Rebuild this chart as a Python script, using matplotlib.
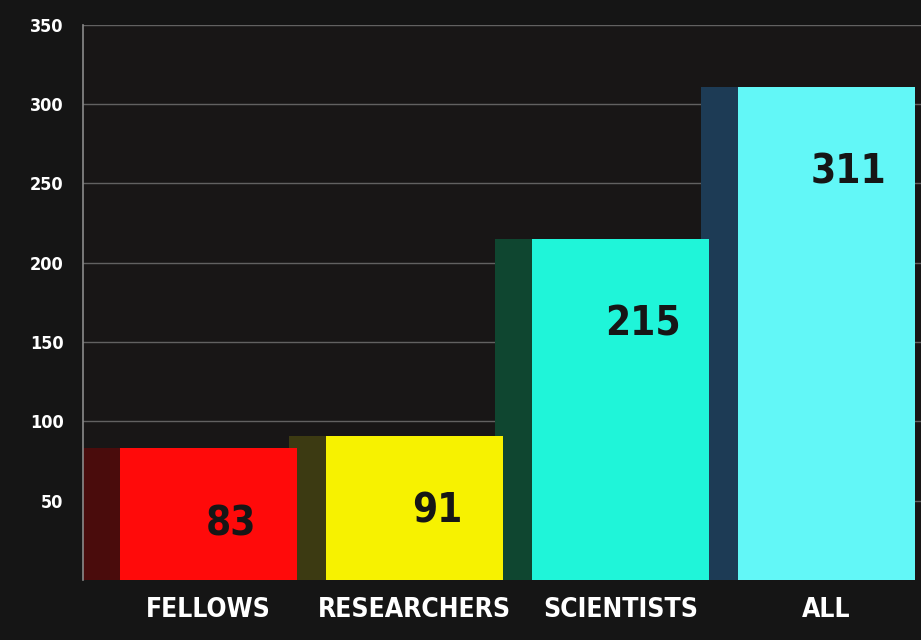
import matplotlib.pyplot as plt

categories = ["FELLOWS", "RESEARCHERS", "SCIENTISTS", "ALL"]
values = [83, 91, 215, 311]
yticks = [50, 100, 150, 200, 250, 300, 350]

bar_colors = ["#ff0a0a", "#f7f200", "#1ff5d9", "#62f7f7"]
side_colors = ["#4a0c0c", "#3c3a12", "#0f4630", "#1d3b55"]

fig = plt.figure(figsize=(9.21, 6.40), dpi=100)
fig.patch.set_facecolor("#151515")
ax = fig.add_axes([0.090, 0.094, 0.910, 0.867])
ax.set_facecolor("#181616")

x = list(range(len(categories)))
ax.set_xlim(-0.61, 3.46)
ax.set_ylim(0, 350)

# darker side faces to fake the 3D look
ax.bar([i - 0.18 for i in x], values, width=0.86, color=side_colors, zorder=2)
ax.bar(x, values, width=0.86, color=bar_colors, zorder=3)

for i, v in enumerate(values):
    top_off = 48 if v < 150 else 54
    ax.text(i + 0.11, v - top_off, str(v), ha="center", va="center",
            fontsize=29, color="#161616", zorder=4, fontweight="semibold",
            fontstretch="condensed")

ax.set_yticks(yticks)
ax.set_yticklabels([str(t) for t in yticks], color="white", fontsize=13,
                   fontweight="bold", fontstretch="condensed")
ax.set_xticks(x)
ax.set_xticklabels(categories, color="white", fontsize=19, fontweight="bold",
                   fontstretch="condensed")
ax.tick_params(axis="both", length=0)
ax.tick_params(axis="y", pad=14)
ax.tick_params(axis="x", pad=12)

ax.grid(axis="y", color="#8a8a8a", linewidth=1.0, alpha=0.65, zorder=1)
ax.set_axisbelow(True)
for s in ["top", "right", "bottom"]:
    ax.spines[s].set_visible(False)
ax.spines["left"].set_color("#8a8a8a")
ax.spines["left"].set_linewidth(1.2)

fig.savefig("out.png", dpi=100, facecolor=fig.get_facecolor())
